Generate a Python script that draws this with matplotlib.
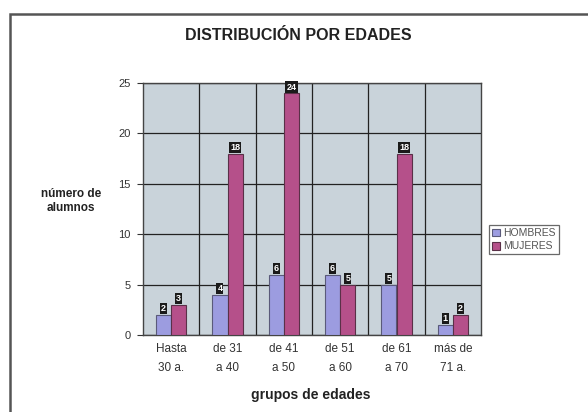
import matplotlib
matplotlib.use("Agg")
import matplotlib.pyplot as plt
from matplotlib.patches import Rectangle
import numpy as np

plt.rcParams['font.family'] = ['Liberation Sans', 'DejaVu Sans']

categories = ["Hasta\n30 a.", "de 31\na 40", "de 41\na 50", "de 51\na 60", "de 61\na 70", "más de\n71 a."]
hombres = [2, 4, 6, 6, 5, 1]
mujeres = [3, 18, 24, 5, 18, 2]
series_names = ["HOMBRES", "MUJERES"]
yticks = [0, 5, 10, 15, 20, 25]

c_h = "#9C9CE0"
c_m = "#B5508A"

fig = plt.figure(figsize=(5.88, 4.12), dpi=100)
fig.patch.set_facecolor("white")

# outer frame
fig.add_artist(Rectangle((10/588, -0.1), 1.2, 1 - 14/412 + 0.1, transform=fig.transFigure,
                         fill=False, edgecolor="#555555", lw=1.8))

ax = fig.add_axes([143/588, 77/412, 338/588, 252/412])
ax.set_facecolor("#C9D3DA")
x = np.arange(len(categories))
w = 0.27
b1 = ax.bar(x - w/2, hombres, w, color=c_h, edgecolor="#5a5a7a", lw=0.8, label=series_names[0], zorder=3)
b2 = ax.bar(x + w/2, mujeres, w, color=c_m, edgecolor="#5a3048", lw=0.8, label=series_names[1], zorder=3)

for xs, vals in ((x - w/2, hombres), (x + w/2, mujeres)):
    for xi, v in zip(xs, vals):
        ax.text(xi, v + 0.6, str(v), ha="center", va="center", fontsize=6.5, color="white",
                fontweight="bold", zorder=5,
                bbox=dict(boxstyle="square,pad=0.12", fc="#1a1a1a", ec="none"))

ax.set_xlim(-0.5, len(categories) - 0.5)
ax.set_ylim(0, 25)
ax.set_yticks(yticks)
ax.set_yticklabels([str(t) for t in yticks], fontsize=8, color="#333333")
ax.set_xticks(x)
ax.set_xticklabels(categories, fontsize=8.5, color="#333333", linespacing=1.75)
ax.set_xticks(np.arange(0.5, len(categories) - 0.5, 1), minor=True)
ax.tick_params(axis="x", which="both", length=0, pad=6)
ax.tick_params(axis="y", length=4, color="#333333", width=0.8, pad=5)
ax.grid(axis="y", which="major", color="#222222", lw=0.9, zorder=1)
ax.grid(axis="x", which="minor", color="#222222", lw=0.9, zorder=1)
for s in ax.spines.values():
    s.set_color("#444444")
    s.set_linewidth(1.0)

fig.text(298/588, 1 - 35/412, "DISTRIBUCIÓN POR EDADES", ha="center", va="center",
         fontsize=11.5, fontweight="bold", color="#222222")
fig.text(71/588, 1 - 201/412, "número de\nalumnos", ha="center", va="center",
         fontsize=8.5, fontweight="bold", color="#222222", linespacing=1.3)
fig.text(311/588, 1 - 395/412, "grupos de edades", ha="center", va="center",
         fontsize=10, fontweight="bold", color="#222222")

leg = fig.legend(handles=[b1, b2], labels=series_names, loc="upper left",
                 bbox_to_anchor=(489/588, 1 - 225/412), fontsize=7.5, frameon=True,
                 fancybox=False, edgecolor="#444444", handlelength=0.8, handleheight=0.8,
                 handletextpad=0.3, borderpad=0.3, labelspacing=0.3, borderaxespad=0)
for t in leg.get_texts():
    t.set_color("#555555")
leg.get_frame().set_linewidth(0.9)

fig.savefig("out.png", dpi=100)
